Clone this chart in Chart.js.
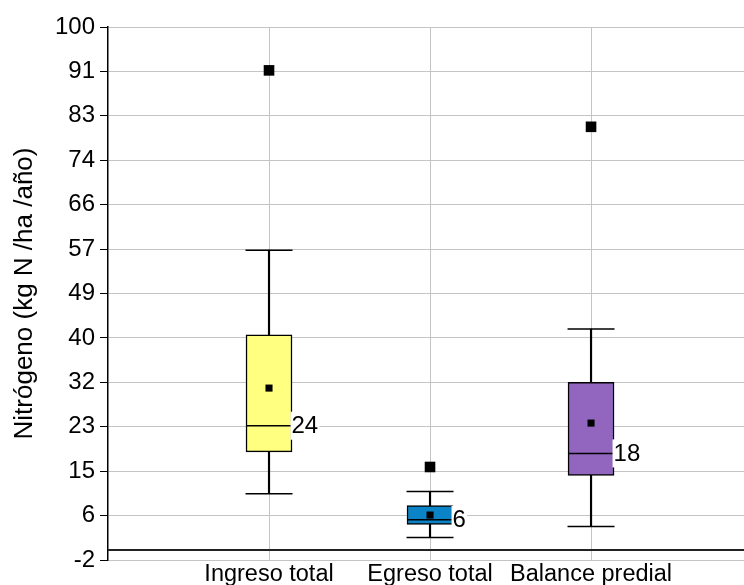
<!DOCTYPE html>
<html><head><meta charset="utf-8">
<script src="https://cdn.jsdelivr.net/npm/chart.js@4"></script>
<style>html,body{margin:0;padding:0;background:#fff}#wrap{width:744px;height:585px}</style>
</head><body><div id="wrap"><canvas id="c" width="744" height="585"></canvas></div>
<script>
const categories = ['Ingreso total', 'Egreso total', 'Balance predial'];
const whiskerLow = [10.7, 2.3, 4.4];
const quartile1 = [18.7, 4.8, 14.2];
const medians = [23.7, 5.7, 18.4];
const quartile3 = [41.1, 8.4, 32.0];
const whiskerHigh = [57.3, 11.1, 42.2];
const means = [30.9, 6.6, 24.2];
const outliers = [91.7, 15.8, 80.9];
const medianLabels = ['24', '6', '18'];
const boxColors = ['#FFFF80', '#0A84C6', '#9266BF'];
const yTickValues = [-2, 6.5, 15, 23.5, 32, 40.5, 49, 57.5, 66, 74.5, 83, 91.5, 100];
const yTickLabels = ['-2', '6', '15', '23', '32', '40', '49', '57', '66', '74', '83', '91', '100'];
const yTitle = 'Nitrógeno (kg N /ha /año)';

const FONT = '"Liberation Sans", Arial, sans-serif';
const BOX_PX = 46;
const pos = i => i + 1;

const zeroLine = {
  id: 'zeroLine',
  beforeDatasetsDraw(chart) {
    const {ctx, chartArea, scales: {x, y}} = chart;
    const py = Math.round(y.getPixelForValue(0));
    ctx.save();
    ctx.strokeStyle = '#222';
    ctx.lineWidth = 2;
    ctx.beginPath();
    ctx.moveTo(chartArea.left, py);
    ctx.lineTo(chartArea.right, py);
    ctx.stroke();
    ctx.restore();
  }
};

const medianText = {
  id: 'medianText',
  afterDatasetsDraw(chart) {
    const {ctx, scales: {x, y}} = chart;
    ctx.save();
    ctx.font = '24px ' + FONT;
    ctx.textBaseline = 'middle';
    ctx.textAlign = 'left';
    medianLabels.forEach((t, i) => {
      const px = x.getPixelForValue(pos(i)) + BOX_PX / 2 - 1.5;
      const py = y.getPixelForValue(medians[i]);
      const w = ctx.measureText(t).width + 2;
      ctx.fillStyle = '#fff';
      ctx.fillRect(px, py - 14, w, 28);
      ctx.fillStyle = '#000';
      ctx.fillText(t, px + 1, py + 1);
    });
    ctx.restore();
  }
};

new Chart(document.getElementById('c'), {
  data: {
    datasets: [
      {
        type: 'scatter', label: 'Media', order: 0,
        data: means.map((v, i) => ({x: pos(i), y: v})),
        pointStyle: 'rect', pointRadius: 5, pointBackgroundColor: '#000', pointBorderWidth: 0
      },
      {
        type: 'scatter', label: 'Atípicos', order: 0,
        data: outliers.map((v, i) => ({x: pos(i), y: v})),
        pointStyle: 'rect', pointRadius: 7.5, pointBackgroundColor: '#000', pointBorderWidth: 0
      },
      {
        type: 'scatter', label: 'Mediana', order: 1,
        data: medians.map((v, i) => ({x: pos(i), y: v})),
        pointStyle: 'line', pointRadius: BOX_PX / 2, pointBorderColor: '#000', pointBorderWidth: 1.5
      },
      {
        type: 'scatter', label: 'Extremos', order: 2,
        data: whiskerLow.map((v, i) => ({x: pos(i), y: v})).concat(whiskerHigh.map((v, i) => ({x: pos(i), y: v}))),
        pointStyle: 'line', pointRadius: BOX_PX / 2 + 0.5, pointBorderColor: '#000', pointBorderWidth: 1.5
      },
      {
        type: 'bar', label: 'Caja', order: 3, grouped: false,
        data: quartile1.map((v, i) => ({x: pos(i), y: [v, quartile3[i]]})),
        backgroundColor: boxColors, borderColor: '#000', borderWidth: 1.5,
        borderSkipped: false, barThickness: BOX_PX
      },
      {
        type: 'bar', label: 'Bigotes', order: 4, grouped: false,
        data: whiskerLow.map((v, i) => ({x: pos(i), y: [v, whiskerHigh[i]]})),
        backgroundColor: '#000', borderWidth: 0, barThickness: 1.5
      }
    ]
  },
  options: {
    responsive: false,
    animation: false,
    events: [],
    devicePixelRatio: 1,
    layout: {autoPadding: false, padding: {top: 27, right: 0, bottom: 0, left: 0}},
    plugins: {legend: {display: false}, tooltip: {enabled: false}},
    scales: {
      x: {
        type: 'linear', min: 0, max: 3.95, offset: false,
        afterBuildTicks: s => { s.ticks = categories.map((c, i) => ({value: pos(i)})); },
        afterFit: s => { s.height = 25; s.paddingLeft = 0; s.paddingRight = 0; },
        ticks: {
          autoSkip: false, maxRotation: 0, padding: 0, color: '#000',
          font: {family: FONT, size: 23.5},
          callback: v => categories[v - 1]
        },
        grid: {color: '#c4c4c4', lineWidth: 1, drawTicks: false, offset: false},
        border: {display: false}
      },
      y: {
        type: 'linear', min: -2, max: 100,
        afterBuildTicks: s => { s.ticks = yTickValues.map(v => ({value: v})); },
        afterFit: s => { s.width = 108; },
        ticks: {
          autoSkip: false, padding: 5, color: '#000',
          font: {family: FONT, size: 24},
          callback: (v, idx) => yTickLabels[idx]
        },
        grid: {color: '#c4c4c4', lineWidth: 1, tickColor: '#000', tickLength: 8, drawTicks: true},
        border: {display: true, color: '#000', width: 1.5},
        title: {
          display: true, text: yTitle, color: '#000',
          font: {family: FONT, size: 26}, padding: {top: 9, bottom: 0}
        }
      }
    }
  },
  plugins: [zeroLine, medianText]
});
</script>
</body></html>
